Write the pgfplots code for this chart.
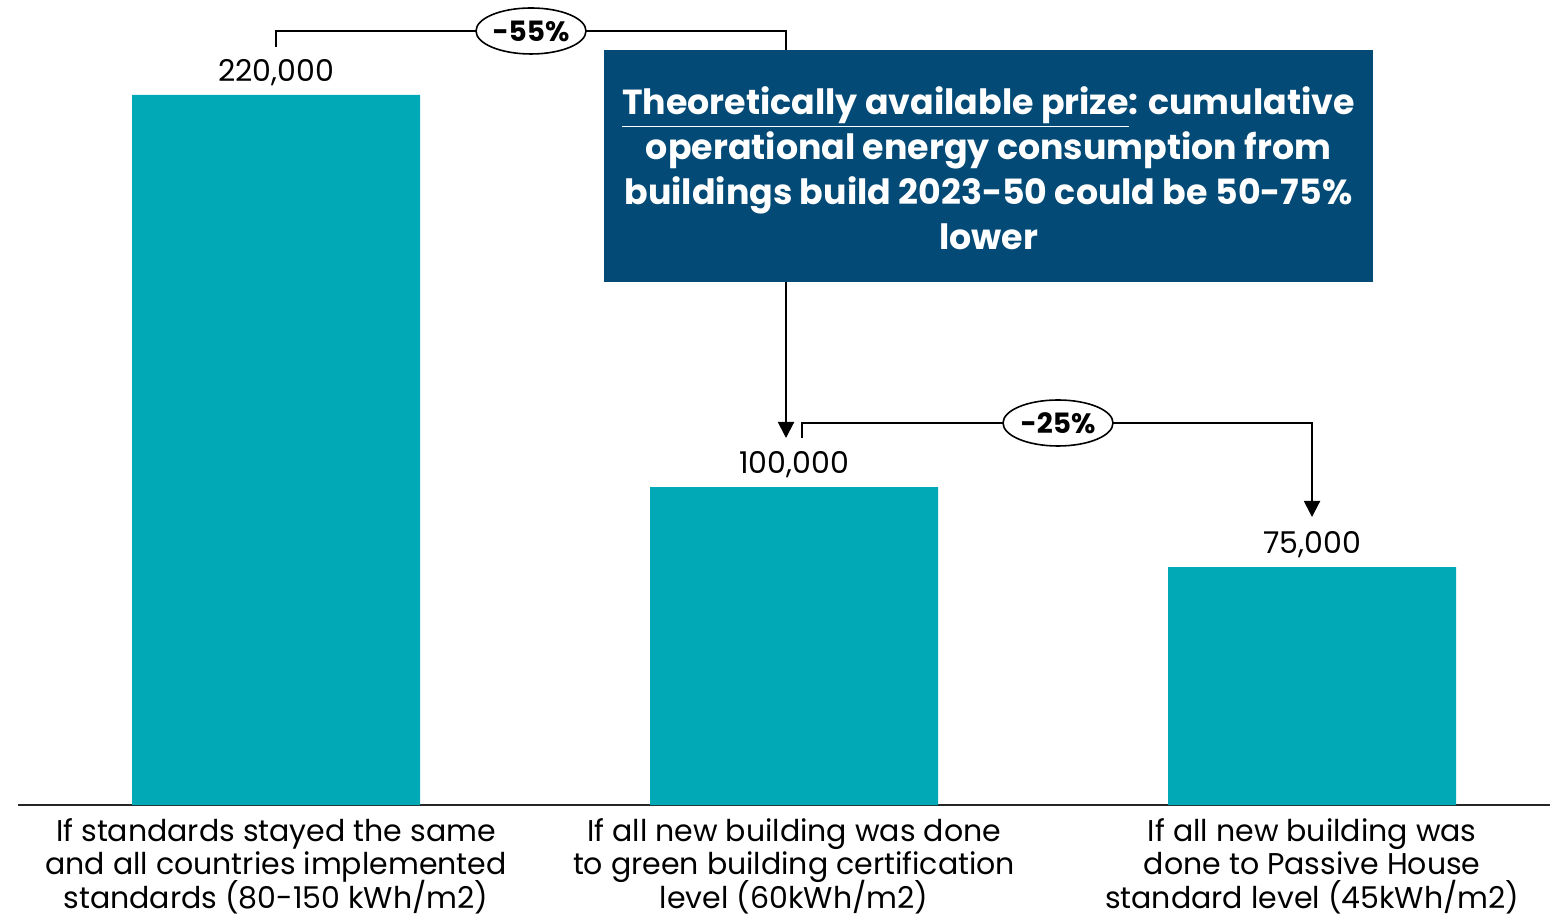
\documentclass[border=0pt]{standalone}
\usepackage{fontspec}
\setmainfont{Poppins}
\usepackage{pgfplots}
\pgfplotsset{compat=1.18}
\usetikzlibrary{arrows.meta,shapes.geometric}
\definecolor{barcol}{HTML}{00A9B5}
\definecolor{boxblue}{HTML}{034A76}
\begin{document}
\begin{tikzpicture}
\path[use as bounding box] (0,0) rectangle (775pt,460pt);
\begin{axis}[
  at={(9pt,57.5pt)}, anchor=south west,
  scale only axis, width=766pt, height=402.5pt,
  xmin=-0.498, xmax=2.459, ymin=0, ymax=249437,
  ybar, bar width=144pt,
  axis y line=none, axis x line=bottom,
  x axis line style={-, line width=1pt, black!85},
  ytick=\empty, xtick={0,1,2}, major tick length=0pt,
  xticklabels={{If standards stayed the same\\and all countries implemented\\standards (80-150 kWh/m2)},
               {If all new building was done\\to green building certification\\level (60kWh/m2)},
               {If all new building was\\done to Passive House\\standard level (45kWh/m2)}},
  xticklabel style={align=center, font={\fontsize{15}{16.8}\selectfont\lineskiplimit=-\maxdimen\lineskip=0pt}, anchor=north, inner sep=0pt, yshift=-6.5pt},
  nodes near coords, point meta=explicit symbolic,
  nodes near coords style={font=\fontsize{15}{17}\selectfont, black, anchor=south, inner sep=0pt, yshift=4.5pt},
  clip=false,
]
\addplot[fill=barcol, draw=none] coordinates {(0,220000)[220,000] (1,98500)[100,000] (2,73700)[75,000]};
\end{axis}
\begin{scope}[shift={(0pt,460pt)}, x=0.5pt, y=-0.5pt]
\draw[line width=1pt] (276,47) -- (276,31) -- (786,31) -- (786,50);
\node[ellipse, draw, line width=0.8pt, fill=white, minimum width=55pt, minimum height=23pt, inner sep=0pt, font=\bfseries\fontsize{14}{17}\selectfont] at (531,31) {-55\%};
\draw[line width=1pt, -{Triangle[length=8pt,width=8pt]}] (786,282) -- (786,438);
\draw[line width=1pt, -{Triangle[length=8pt,width=8pt]}] (802,438) -- (802,423) -- (1312,423) -- (1312,517);
\node[ellipse, draw, line width=0.8pt, fill=white, minimum width=55pt, minimum height=23pt, inner sep=0pt, font=\bfseries\fontsize{14}{17}\selectfont] at (1058,423) {-25\%};
\fill[boxblue] (604,50) rectangle (1373,282);
\node[align=center, text=white, font=\bfseries\fontsize{17.4}{22.5}\selectfont, inner sep=0pt] at (988.5,168) {\underline{Theoretically available prize}: cumulative\\operational energy consumption from\\buildings build 2023-50 could be 50-75\%\\lower};
\end{scope}
\end{tikzpicture}
\end{document}
